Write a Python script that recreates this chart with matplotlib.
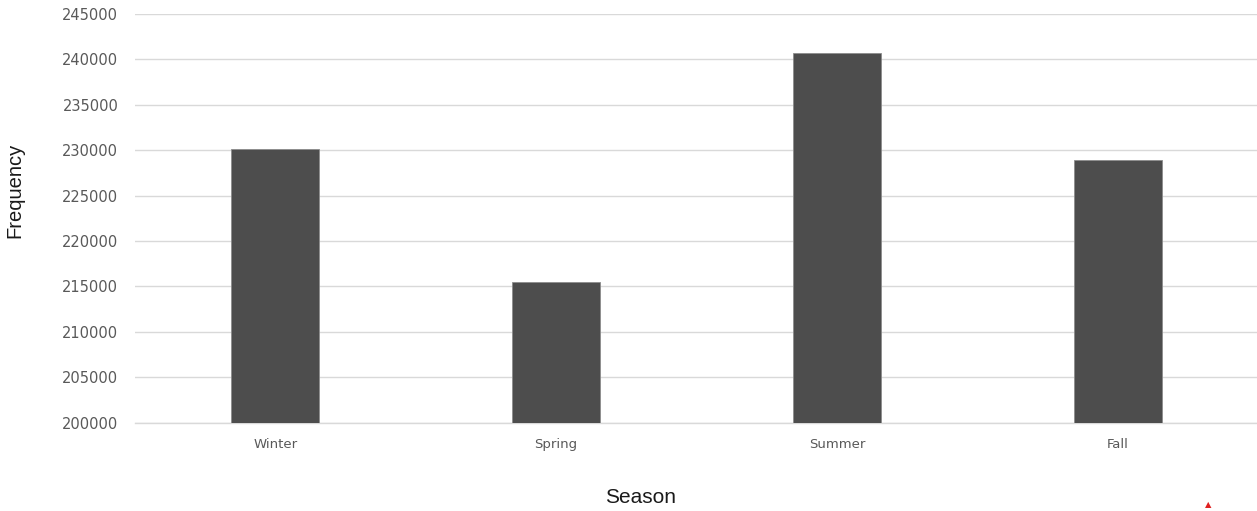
import matplotlib
matplotlib.use("Agg")
import matplotlib.pyplot as plt
import numpy as np

seasons = ["Winter", "Spring", "Summer", "Fall"]
frequency = [230100, 215500, 240750, 228900]
y_ticks = list(range(200000, 245001, 5000))

plt.rcParams['font.family'] = ['DejaVu Sans']

W, H = 1257, 511
fig = plt.figure(figsize=(W / 100, H / 100), dpi=100)
ax_left, ax_right, ax_top, ax_bot = 135, 1258, 14, 422.7
ax = fig.add_axes([ax_left / W, 1 - ax_bot / H, (ax_right - ax_left) / W, (ax_bot - ax_top) / H])

x = np.arange(len(seasons))
ax.bar(x, frequency, width=0.313, color="#4d4d4d", edgecolor="#8c8c8c", linewidth=0.6, zorder=3)

ax.set_ylim(200000, 245000)
ax.set_xlim(-0.5, len(seasons) - 0.5)
ax.set_yticks(y_ticks)
ax.set_yticklabels([str(v) for v in y_ticks])
ax.set_xticks(x)
ax.set_xticklabels(seasons)

ax.grid(axis="y", color="#d9d9d9", linewidth=1.0, zorder=0)
ax.set_axisbelow(True)
for s in ["top", "right", "left"]:
    ax.spines[s].set_visible(False)
ax.spines["bottom"].set_color("#d9d9d9")
ax.spines["bottom"].set_linewidth(1.0)

ax.tick_params(axis="y", length=0, pad=12, labelsize=10.5, labelcolor="#595959")
ax.tick_params(axis="x", length=0, pad=16, labelsize=9.5, labelcolor="#595959")
for lbl in ax.get_xticklabels():
    lbl.set_verticalalignment("center")

ax_w = ax_right - ax_left
ax_h = ax_bot - ax_top
ax.set_ylabel("Frequency", fontsize=14.5, color="#1a1a1a", family=["Liberation Sans"])
ax.yaxis.label.set_verticalalignment("center")
ax.yaxis.set_label_coords((15 - ax_left) / ax_w, (ax_bot - 190) / ax_h)
ax.set_xlabel("Season", fontsize=15, color="#1a1a1a", family=["Liberation Sans"])
ax.xaxis.label.set_verticalalignment("center")
ax.xaxis.set_label_coords((641 - ax_left) / ax_w, (ax_bot - 497) / ax_h)

fig.text(1208 / W, 2 / H, "\u25B2", color="#e02020", fontsize=6, ha="center", va="bottom")

fig.savefig("out.png", dpi=100)
